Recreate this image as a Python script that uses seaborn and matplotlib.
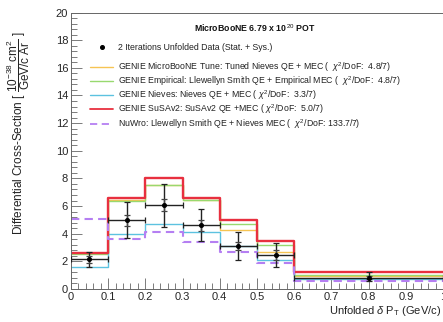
import numpy as np
import matplotlib
matplotlib.use("Agg")
import matplotlib.pyplot as plt
from matplotlib.ticker import MultipleLocator
from matplotlib.lines import Line2D
import seaborn as sns

# ---------------- data ----------------
bin_edges = [0.0, 0.1, 0.2, 0.3, 0.4, 0.5, 0.6, 1.0]
bin_centers = [0.05, 0.15, 0.25, 0.35, 0.45, 0.55, 0.8]

data_vals = [2.14, 4.96, 6.07, 4.61, 3.10, 2.45, 0.83]
data_err_tot_up = [0.53, 1.30, 1.55, 1.18, 1.03, 0.89, 0.37]
data_err_tot_dn = [0.53, 1.28, 1.55, 1.12, 0.98, 0.84, 0.28]
data_err_stat = [0.27, 0.42, 0.43, 0.39, 0.31, 0.34, 0.12]

genie_tune = [2.58, 6.42, 7.52, 6.44, 4.24, 2.70, 0.94]
genie_empirical = [2.52, 6.40, 7.55, 6.45, 4.70, 3.17, 1.02]
genie_nieves = [1.56, 3.96, 4.73, 4.14, 3.10, 2.09, 0.72]
genie_susav2 = [2.62, 6.55, 8.02, 6.57, 4.98, 3.45, 1.22]
nuwro = [5.05, 3.63, 4.09, 3.39, 2.70, 1.85, 0.60]

labels = [
    "GENIE MicroBooNE Tune: Tuned Nieves QE + MEC (  $\\chi^{2}$/DoF:  4.8/7)",
    "GENIE Empirical: Llewellyn Smith QE + Empirical MEC (  $\\chi^{2}$/DoF:  4.8/7)",
    "GENIE Nieves: Nieves QE + MEC ( $\\chi^{2}$/DoF:  3.3/7)",
    "GENIE SuSAv2: SuSAv2 QE +MEC ( $\\chi^{2}$/DoF:  5.0/7)",
    "NuWro: Llewellyn Smith QE + Nieves MEC (  $\\chi^{2}$/DoF: 133.7/7)",
]
data_label = "2 Iterations Unfolded Data (Stat. + Sys.)"
title = "MicroBooNE 6.79 x 10$^{\\,20}$ POT"

# ---------------- style ----------------
sns.set_style("ticks")
plt.rcParams["font.family"] = ["Liberation Sans", "DejaVu Sans"]
plt.rcParams["mathtext.fontset"] = "custom"
plt.rcParams["mathtext.rm"] = "Liberation Sans"
plt.rcParams["mathtext.it"] = "Liberation Sans:italic"

W, H = 443, 322
fig = plt.figure(figsize=(W / 100, H / 100), dpi=100)
ax = fig.add_axes([0.160, 0.1025, 0.840, 0.8585])

colors = ["#f6c453", "#98d96f", "#5cc2e0", "#e8303f", "#b57ff2"]
series = [genie_tune, genie_empirical, genie_nieves, genie_susav2, nuwro]
widths = [1.0, 1.0, 1.0, 1.7, 1.5]
styles = ["-", "-", "-", "-", (0, (4, 2.5))]

for vals, c, lw, ls in zip(series, colors, widths, styles):
    sns.histplot(x=bin_centers, weights=vals, bins=bin_edges, element="step",
                 fill=False, color=c, linewidth=lw, linestyle=ls, ax=ax)

xc = np.array(bin_centers)
xerr = np.diff(bin_edges) / 2
ax.errorbar(xc, data_vals, yerr=[data_err_tot_dn, data_err_tot_up], xerr=xerr,
            fmt="o", color="black", ecolor="#222222", markersize=2.6,
            elinewidth=1.0, capsize=2.2, capthick=0.9, zorder=5)
ax.errorbar(xc, data_vals, yerr=data_err_stat, fmt="none",
            ecolor="#444444", elinewidth=1.0, capsize=2.2, capthick=0.9, zorder=5)

ax.set_xlim(0, 1.0)
ax.set_ylim(0, 20)
ax.set_ylabel("")
ax.xaxis.set_major_locator(MultipleLocator(0.1))
ax.xaxis.set_minor_locator(MultipleLocator(0.02))
ax.yaxis.set_major_locator(MultipleLocator(2))
ax.yaxis.set_minor_locator(MultipleLocator(0.4))
ax.tick_params(which="both", direction="in", color="#666666", width=0.6,
               top=False, right=False, labelsize=8, pad=2)
ax.tick_params(which="major", length=8)
ax.tick_params(which="minor", length=4)
ax.set_xticks(np.round(np.arange(0, 1.01, 0.1), 1))
ax.set_xticklabels(["0", "0.1", "0.2", "0.3", "0.4", "0.5", "0.6", "0.7", "0.8", "0.9", "1"])
for s in ["left", "bottom", "top"]:
    ax.spines[s].set_color("#666666")
    ax.spines[s].set_linewidth(0.7)
ax.spines["right"].set_visible(False)

ax.set_xlabel("")
fig.text(0.995, 0.035, "Unfolded $\\delta$ P$_{\\mathrm{T}}$ (GeV/c)", ha="right",
         va="center", fontsize=8, color="#222222")
fig.text(0.04, 0.585,
         "Differential Cross-Section [ $\\dfrac{10^{-38}\\ \\mathrm{cm}^{2}}{\\mathrm{GeV/c\\ Ar}}$ ]",
         rotation=90, ha="center", va="center", fontsize=8.5, color="#222222")

fig.text(0.576, 0.913, title, ha="center", va="center", fontsize=6.3,
         fontweight="bold", color="#111111")

# legend (manual layout, ROOT-style)
row_px = [47, 67, 81, 95, 109, 124]
handle_x0, handle_x1, text_x = 90, 113, 118
all_labels = [data_label] + labels
for i, (lab, yp) in enumerate(zip(all_labels, row_px)):
    yf = 1 - yp / H
    if i == 0:
        fig.add_artist(Line2D([(handle_x0 + handle_x1) / 2 / W], [yf], marker="o",
                              color="black", linestyle="none", markersize=2.6))
    else:
        c, ls = colors[i - 1], styles[i - 1]
        fig.add_artist(Line2D([handle_x0 / W, handle_x1 / W], [yf, yf], color=c,
                              linestyle=ls, linewidth=min(widths[i - 1], 1.3)))
    fig.text(text_x / W, yf, lab, ha="left", va="center", fontsize=6.3,
             color="#222222")

fig.savefig("out.png", dpi=100)
